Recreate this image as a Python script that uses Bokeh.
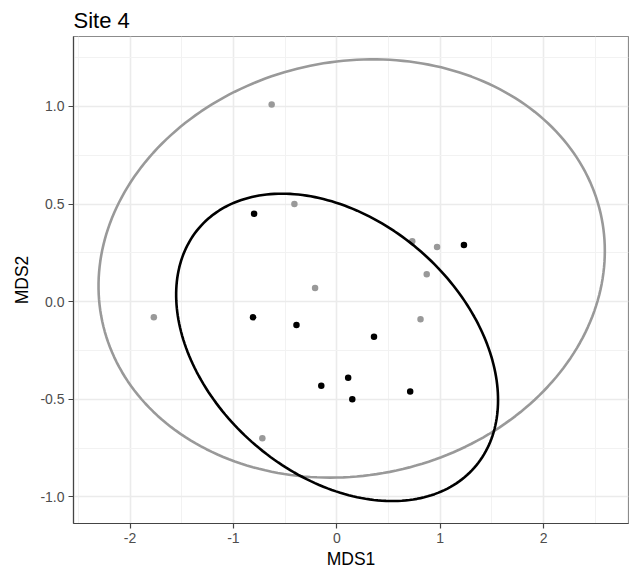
import numpy as np
from bokeh.plotting import figure
from bokeh.models import Range1d, FixedTicker
from bokeh.embed import file_html
from bokeh.resources import INLINE

# NMDS scores for the two groups at Site 4
grey_mds1 = [-0.63, -0.41, -0.21, -1.77, 0.73, 0.97, 0.87, 0.81, -0.72]
grey_mds2 = [1.01, 0.50, 0.07, -0.08, 0.31, 0.28, 0.14, -0.09, -0.70]
black_mds1 = [-0.80, -0.81, -0.39, 1.23, 0.36, 0.11, -0.15, 0.15, 0.71]
black_mds2 = [0.45, -0.08, -0.12, 0.29, -0.18, -0.39, -0.43, -0.50, -0.46]

# 95% ellipses: centre, half-extent along each axis, and the cross term
grey_centre = [0.144, 0.170]
grey_extent = [2.449, 1.071]
grey_cross = 0.22
black_centre = [0.003, -0.234]
black_extent = [1.557, 0.787]
black_cross = -0.42

x_ticks = [-2, -1, 0, 1, 2]
x_minor = [-2.5, -1.5, -0.5, 0.5, 1.5, 2.5]
y_ticks = [-1.0, -0.5, 0.0, 0.5, 1.0]
y_minor = [-0.75, -0.25, 0.25, 0.75, 1.25]
y_tick_labels = ["-1.0", "-0.5", "0.0", "0.5", "1.0"]


def ellipse_path(centre, extent, cross, n=240):
    """Trace the ellipse whose shape matrix is [[sx^2, c], [c, sy^2]]."""
    t = np.linspace(0, 2 * np.pi, n)
    sx, sy = extent
    a21 = cross / sx
    a22 = np.sqrt(sy ** 2 - a21 ** 2)
    xs = centre[0] + sx * np.cos(t)
    ys = centre[1] + a21 * np.cos(t) + a22 * np.sin(t)
    return xs, ys


FONT = "Liberation Sans"

p = figure(
    width=629, height=573,
    x_range=Range1d(-2.547, 2.822), y_range=Range1d(-1.136, 1.358),
    output_backend="svg", toolbar_location=None,
    min_border_left=73, min_border_right=1, min_border_top=36, min_border_bottom=50,
    title="Site 4",
)

p.title.text_font = FONT
p.title.text_font_size = "22px"
p.title.text_font_style = "normal"
p.title.text_color = "#000000"
p.title.align = "left"
p.title.standoff = 8

p.background_fill_color = "#ffffff"
p.border_fill_color = "#ffffff"
p.outline_line_color = "#8c8c8c"
p.outline_line_width = 1.2

for ax in (p.xaxis[0], p.yaxis[0]):
    ax.axis_line_color = "#444444"
    ax.axis_line_width = 1.2
    ax.major_tick_line_color = "#444444"
    ax.major_tick_line_width = 1.2
    ax.major_tick_out = 5
    ax.major_tick_in = 0
    ax.minor_tick_line_color = None
    ax.major_label_text_font = FONT
    ax.major_label_text_font_size = "14px"
    ax.major_label_text_color = "#4d4d4d"
    ax.axis_label_text_font = FONT
    ax.axis_label_text_font_size = "17.5px"
    ax.axis_label_text_font_style = "normal"
    ax.axis_label_text_color = "#000000"
    ax.major_label_standoff = 4

p.xaxis.ticker = FixedTicker(ticks=x_ticks, minor_ticks=x_minor)
p.yaxis.ticker = FixedTicker(ticks=y_ticks, minor_ticks=y_minor)
p.xaxis.major_label_overrides = {t: str(t) for t in x_ticks}
p.yaxis.major_label_overrides = dict(zip(y_ticks, y_tick_labels))
p.xaxis.axis_label = "MDS1"
p.yaxis.axis_label = "MDS2"
p.xaxis.axis_label_standoff = 3
p.yaxis.axis_label_standoff = 5

for g in (p.xgrid[0], p.ygrid[0]):
    g.grid_line_color = "#ebebeb"
    g.grid_line_width = 1.6
    g.minor_grid_line_color = "#f2f2f2"
    g.minor_grid_line_width = 1.0

# group points
p.scatter(grey_mds1, grey_mds2, size=6.5, color="#999999", line_color=None)
p.scatter(black_mds1, black_mds2, size=6.5, color="#000000", line_color=None)

# confidence ellipses
gx, gy = ellipse_path(grey_centre, grey_extent, grey_cross)
bx, by = ellipse_path(black_centre, black_extent, black_cross)
p.line(gx, gy, line_color="#999999", line_width=2.6)
p.line(bx, by, line_color="#000000", line_width=2.6)

open("out.html", "w").write(file_html(p, INLINE))
